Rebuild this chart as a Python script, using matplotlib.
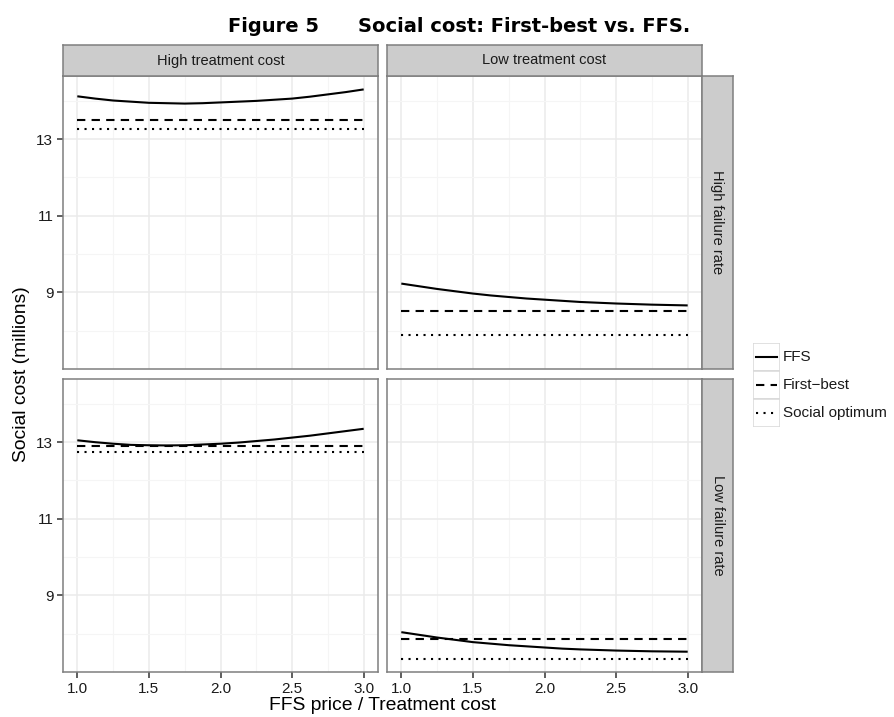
import matplotlib
matplotlib.use('Agg')
import matplotlib.pyplot as plt
from matplotlib.patches import Rectangle

plt.rcParams['font.family'] = ['Liberation Sans', 'DejaVu Sans']

W, H = 894, 717

# FFS price / treatment cost ratio
price = [1.0, 1.125, 1.25, 1.375, 1.5, 1.625, 1.75, 1.875, 2.0,
         2.125, 2.25, 2.375, 2.5, 2.625, 2.75, 2.875, 3.0]

# rows: failure rate (high, low); cols: treatment cost (high, low)
row_labels = ['High failure rate', 'Low failure rate']
col_labels = ['High treatment cost', 'Low treatment cost']

ffs_hfr_htc = [14.12, 14.06, 14.01, 13.98, 13.95, 13.94, 13.93, 13.94, 13.96,
               13.98, 14.00, 14.03, 14.06, 14.11, 14.17, 14.23, 14.30]
ffs_hfr_ltc = [9.23, 9.16, 9.09, 9.03, 8.97, 8.92, 8.88, 8.84, 8.81,
               8.78, 8.75, 8.73, 8.71, 8.695, 8.68, 8.67, 8.66]
ffs_lfr_htc = [13.05, 13.00, 12.96, 12.93, 12.92, 12.915, 12.92, 12.94, 12.96,
               12.99, 13.03, 13.07, 13.12, 13.17, 13.23, 13.29, 13.35]
ffs_lfr_ltc = [8.04, 7.97, 7.90, 7.84, 7.78, 7.74, 7.70, 7.67, 7.64,
               7.61, 7.59, 7.575, 7.56, 7.55, 7.54, 7.535, 7.53]
ffs = [[ffs_hfr_htc, ffs_hfr_ltc], [ffs_lfr_htc, ffs_lfr_ltc]]

first_best = [[13.50, 8.51], [12.91, 7.87]]
social_opt = [[13.26, 7.90], [12.74, 7.35]]

series_labels = ['FFS', 'First\u2212best', 'Social optimum']

GREY50 = '#7f7f7f'
TXT = '#1a1a1a'
LW = 1.5
DASH = (0, (4, 3))
DOT = (0, (1, 2.6))


def px(x0, y0, x1, y1):
    """pixel box (top-left origin) -> figure rect"""
    return [x0 / W, 1 - y1 / H, (x1 - x0) / W, (y1 - y0) / H]


fig = plt.figure(figsize=(W / 100, H / 100), dpi=100)

col_x = [(63, 378), (387, 702)]
row_y = [(76, 369), (379, 672)]

for r in range(2):
    for c in range(2):
        x0, x1 = col_x[c]
        y0, y1 = row_y[r]
        ax = fig.add_axes(px(x0, y0, x1, y1))
        ax.set_xlim(0.9, 3.1)
        ax.set_ylim(7.0, 14.65)
        ax.set_xticks([1.0, 1.5, 2.0, 2.5, 3.0])
        ax.set_xticks([1.25, 1.75, 2.25, 2.75], minor=True)
        ax.set_yticks([9, 11, 13])
        ax.set_yticks([8, 10, 12, 14], minor=True)
        ax.grid(True, which='major', color='#ebebeb', lw=1.1, zorder=0)
        ax.grid(True, which='minor', color='#f5f5f5', lw=0.8, zorder=0)
        ax.set_axisbelow(True)
        for s in ax.spines.values():
            s.set_color(GREY50)
            s.set_linewidth(1.1)

        ax.plot(price, ffs[r][c], color='black', lw=LW, solid_capstyle='butt')
        ax.plot([price[0], price[-1]], [first_best[r][c]] * 2, color='black',
                lw=LW, linestyle=DASH)
        ax.plot([price[0], price[-1]], [social_opt[r][c]] * 2, color='black',
                lw=LW, linestyle=DOT)

        ax.tick_params(which='minor', length=0)
        ax.tick_params(which='major', length=4, width=1.1, color='#333333',
                       labelsize=11, labelcolor=TXT, pad=3)
        ax.set_xticklabels(['1.0', '1.5', '2.0', '2.5', '3.0'])
        if c != 0:
            ax.tick_params(axis='y', length=0, labelleft=False)
        if r != 1:
            ax.tick_params(axis='x', length=0, labelbottom=False)

        # strips
        if r == 0:
            sax = fig.add_axes(px(x0, 45, x1, 76))
            sax.add_patch(Rectangle((0, 0), 1, 1, transform=sax.transAxes,
                                    facecolor='#cccccc', edgecolor='none'))
            sax.text(0.5, 0.5, col_labels[c], ha='center', va='center',
                     fontsize=10.5, color=TXT, transform=sax.transAxes)
            sax.set_xticks([]); sax.set_yticks([])
            for s in sax.spines.values():
                s.set_color(GREY50); s.set_linewidth(1.1)
        if c == 1:
            sax = fig.add_axes(px(702, y0, 733, y1))
            sax.add_patch(Rectangle((0, 0), 1, 1, transform=sax.transAxes,
                                    facecolor='#cccccc', edgecolor='none'))
            sax.text(0.5, 0.5, row_labels[r], ha='center', va='center',
                     rotation=-90, fontsize=10.5, color=TXT,
                     transform=sax.transAxes)
            sax.set_xticks([]); sax.set_yticks([])
            for s in sax.spines.values():
                s.set_color(GREY50); s.set_linewidth(1.1)

# axis titles
fig.text(22 / W, 1 - 374 / H, 'Social cost (millions)', rotation=90,
         ha='center', va='center', fontsize=13.9, color='black')
fig.text(382 / W, 1 - 706 / H, 'FFS price / Treatment cost',
         ha='center', va='center', fontsize=13.9, color='black')

# title
fig.text(228 / W, 1 - 26 / H, 'Figure 5', ha='left', va='center',
         fontsize=14, fontweight='bold', family='DejaVu Sans')
fig.text(358 / W, 1 - 26 / H, 'Social cost: First-best vs. FFS.', ha='left',
         va='center', fontsize=14, fontweight='bold', family='DejaVu Sans')

# legend (keys with light boxes)
lax = fig.add_axes(px(753, 343, 780, 427))
lax.set_xlim(0, 1)
lax.set_ylim(0, 3)
lax.axis('off')
styles = ['-', DASH, DOT]
for i, (lab, ls) in enumerate(zip(series_labels, styles)):
    yc = 2.5 - i
    lax.add_patch(Rectangle((0, yc - 0.5), 1, 1, facecolor='white',
                            edgecolor='#d9d9d9', lw=1.1))
    lax.plot([0.1, 0.9], [yc, yc], color='black', lw=LW, linestyle=ls)
    fig.text(783 / W, 1 - (343 + 28 * i + 14) / H, lab, ha='left',
             va='center', fontsize=11, color=TXT)

fig.savefig('out.png', dpi=100)
